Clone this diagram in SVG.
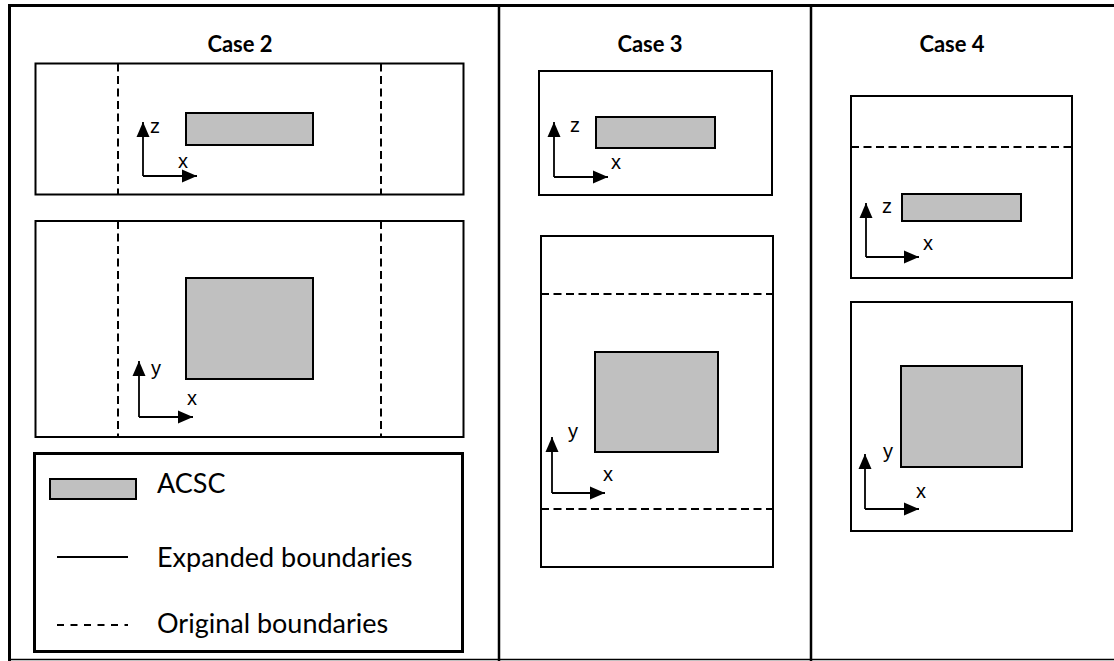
<svg xmlns="http://www.w3.org/2000/svg" width="1114" height="661" viewBox="0 0 1114 661">
<style>
.box{fill:none;stroke:#000;stroke-width:2}
.acsc{fill:#c0c0c0;stroke:#000;stroke-width:2}
.dash{fill:none;stroke:#000;stroke-width:2;stroke-dasharray:8 4.5}
.ax{fill:none;stroke:#000;stroke-width:1.8}
.title{font-family:Lato,"Liberation Sans",sans-serif;font-weight:bold;font-size:22px;text-anchor:middle;fill:#000}
.lab{font-family:"Liberation Sans",Arial,sans-serif;font-size:20px;fill:#000}
.leg{font-family:Lato,"Liberation Sans",sans-serif;font-size:27px;fill:#000}
</style>
<defs>
<marker id="ah" markerUnits="userSpaceOnUse" markerWidth="16" markerHeight="14" refX="15" refY="7" orient="auto">
<path d="M0,0.5 L15,7 L0,13.5 Z" fill="#000"/>
</marker>
</defs>
<rect width="1114" height="661" fill="#fff"/>
<g id="frame">
<line x1="8" y1="5.5" x2="1114" y2="5.5" stroke="#000" stroke-width="3"/>
<line x1="9.5" y1="4" x2="9.5" y2="661" stroke="#000" stroke-width="3"/>
<line x1="8" y1="659.5" x2="1114" y2="659.5" stroke="#000" stroke-width="1.5"/>
<line x1="499" y1="4" x2="499" y2="661" stroke="#000" stroke-width="2.5"/>
<line x1="811" y1="4" x2="811" y2="661" stroke="#000" stroke-width="2.5"/>
</g>
<g id="case2">
<text class="title" x="240" y="52">Case 2</text>
<g id="case2-xz">
<rect class="box" x="35.5" y="63.5" width="428" height="131"/>
<line class="dash" x1="118" y1="63.5" x2="118" y2="194.5"/>
<line class="dash" x1="381" y1="63.5" x2="381" y2="194.5"/>
<rect class="acsc" x="186" y="113" width="127" height="32"/>
<text class="lab" x="150" y="133">z</text>
<text class="lab" x="178" y="168">x</text>
</g>
<g id="case2-xy">
<rect class="box" x="35.5" y="221" width="428" height="216"/>
<line class="dash" x1="118" y1="221" x2="118" y2="437"/>
<line class="dash" x1="381" y1="221" x2="381" y2="437"/>
<rect class="acsc" x="186" y="278" width="127" height="101"/>
<text class="lab" x="151" y="375">y</text>
<text class="lab" x="187" y="405">x</text>
</g>
<g id="legend">
<rect x="34.5" y="453.5" width="428" height="198" fill="none" stroke="#000" stroke-width="3"/>
<rect class="acsc" x="50" y="479" width="86" height="20"/>
<text class="leg" x="157" y="493">ACSC</text>
<line x1="57" y1="557" x2="128" y2="557" stroke="#000" stroke-width="1.8"/>
<text class="leg" x="157" y="567">Expanded boundaries</text>
<line x1="57" y1="625" x2="128" y2="625" stroke="#000" stroke-width="1.8" stroke-dasharray="7 6.5"/>
<text class="leg" x="157" y="633">Original boundaries</text>
</g>
</g>
<g id="case3">
<text class="title" x="650" y="52">Case 3</text>
<g id="case3-xz">
<rect class="box" x="539" y="71" width="233" height="124"/>
<rect class="acsc" x="596" y="117" width="119" height="31"/>
<text class="lab" x="570" y="132">z</text>
<text class="lab" x="611" y="169">x</text>
</g>
<g id="case3-xy">
<rect class="box" x="541" y="236" width="232" height="331"/>
<line class="dash" x1="541" y1="294" x2="773" y2="294"/>
<line class="dash" x1="541" y1="509" x2="773" y2="509"/>
<rect class="acsc" x="595" y="352" width="123" height="100"/>
<text class="lab" x="568" y="438">y</text>
<text class="lab" x="603" y="481">x</text>
</g>
</g>
<g id="case4">
<text class="title" x="952" y="52">Case 4</text>
<g id="case4-xz">
<rect class="box" x="851" y="96" width="221" height="182"/>
<line class="dash" x1="851" y1="147" x2="1072" y2="147"/>
<rect class="acsc" x="902" y="194" width="119" height="27"/>
<text class="lab" x="882" y="213">z</text>
<text class="lab" x="923" y="250">x</text>
</g>
<g id="case4-xy">
<rect class="box" x="851" y="302" width="221" height="229"/>
<rect class="acsc" x="901" y="366" width="121" height="101"/>
<text class="lab" x="883" y="458">y</text>
<text class="lab" x="916" y="498">x</text>
</g>
</g>
<g id="connectors">
<path class="ax" d="M143,176 V122" marker-end="url(#ah)"/>
<path class="ax" d="M143,176 H197" marker-end="url(#ah)"/>
<path class="ax" d="M139,417 V361" marker-end="url(#ah)"/>
<path class="ax" d="M139,417 H193" marker-end="url(#ah)"/>
<path class="ax" d="M554,177 V122" marker-end="url(#ah)"/>
<path class="ax" d="M554,177 H608" marker-end="url(#ah)"/>
<path class="ax" d="M552,493 V437" marker-end="url(#ah)"/>
<path class="ax" d="M552,493 H605" marker-end="url(#ah)"/>
<path class="ax" d="M866,257 V203" marker-end="url(#ah)"/>
<path class="ax" d="M866,257 H919" marker-end="url(#ah)"/>
<path class="ax" d="M865,509 V454" marker-end="url(#ah)"/>
<path class="ax" d="M865,509 H919" marker-end="url(#ah)"/>
</g>
</svg>
